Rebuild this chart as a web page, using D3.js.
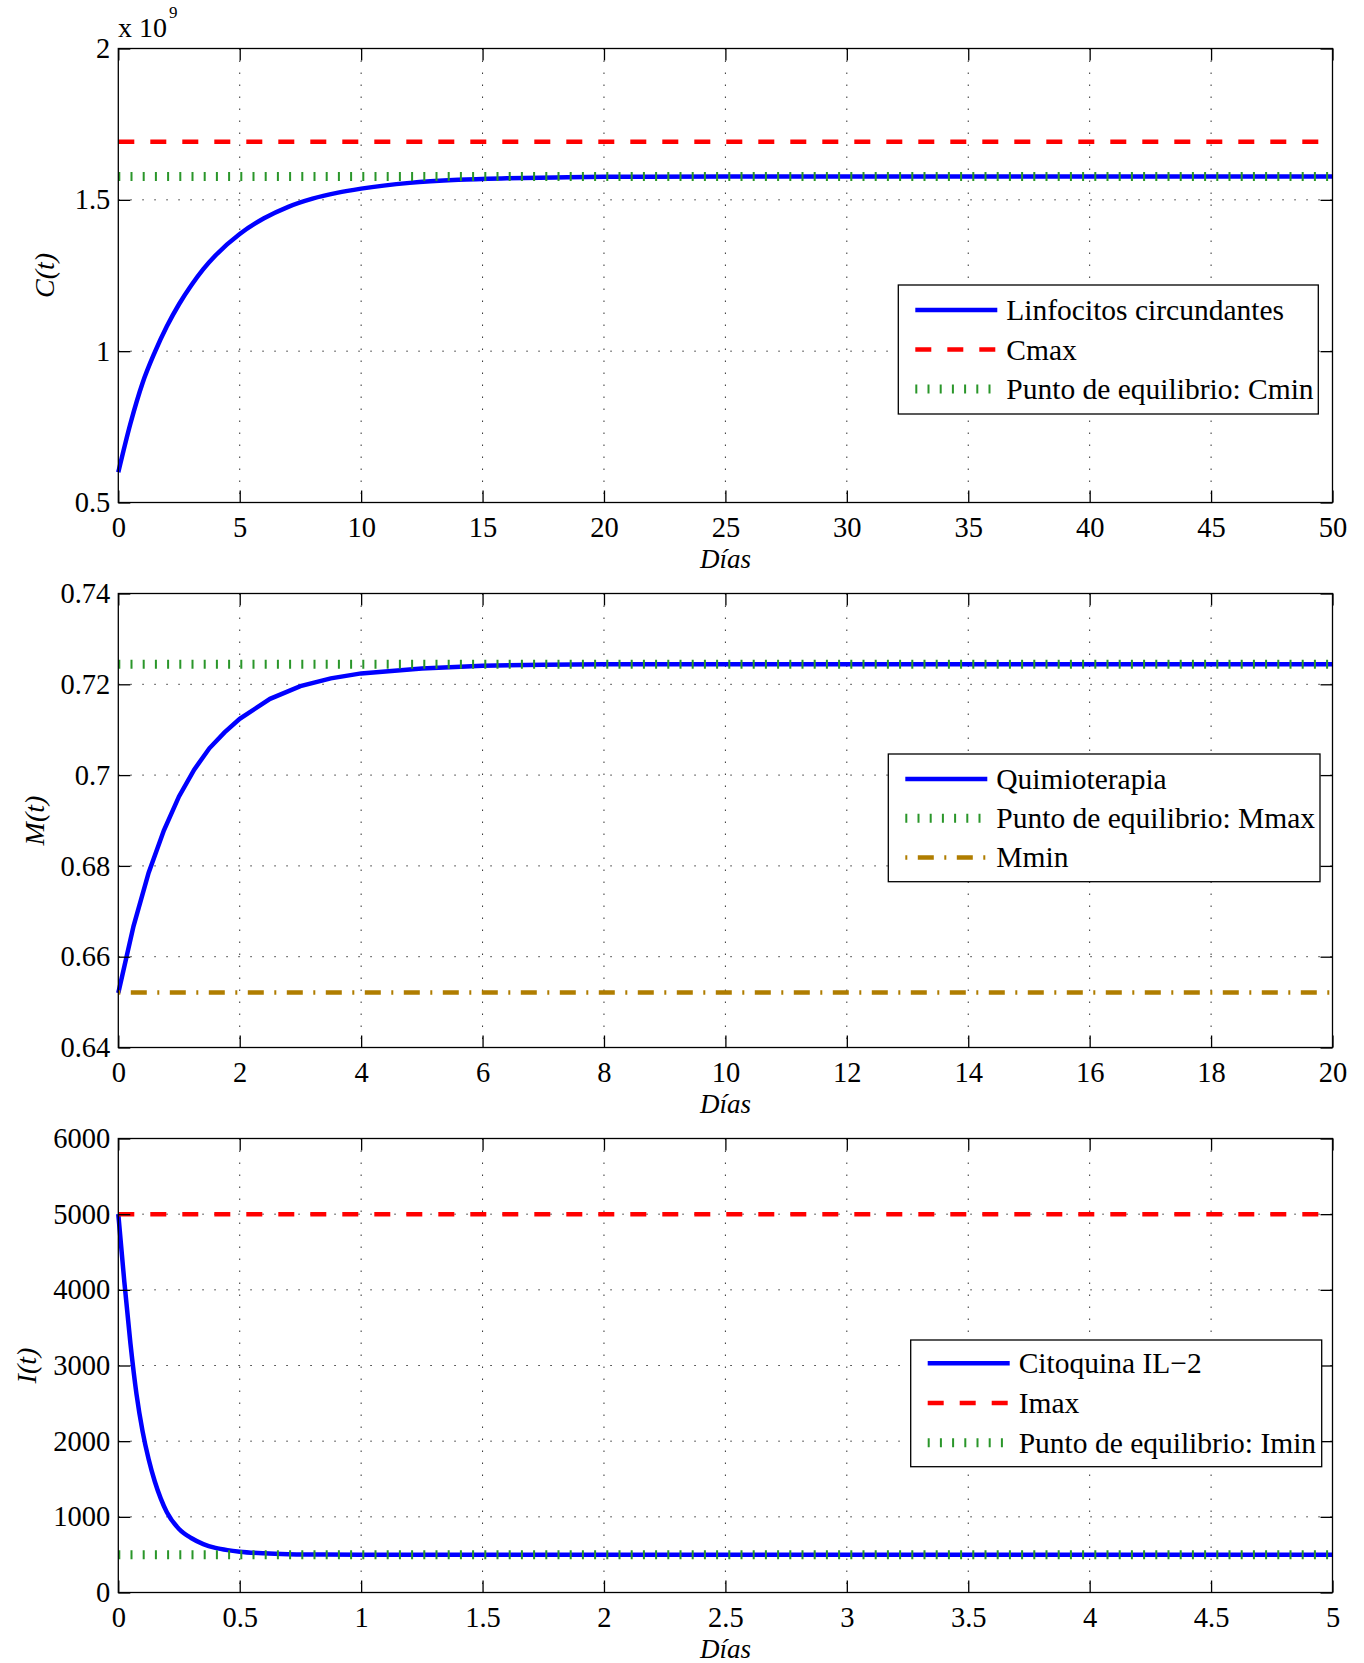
<!DOCTYPE html>
<html>
<head>
<meta charset="utf-8">
<script src="https://cdn.jsdelivr.net/npm/d3@7"></script>
<style>
  body { margin: 0; background: #fff; }
  svg text { font-family: "Liberation Serif", "Times New Roman", serif; fill: #000; }
</style>
</head>
<body>
<svg id="chart" width="1364" height="1663"></svg>
<script>
// ---- datos ----
// C(t), en unidades de 10^9
var diasC = [0, 0.5, 1, 1.5, 2, 2.5, 3, 3.5, 4, 5, 6, 7, 8, 9, 10, 12, 14, 16, 18, 20, 25, 30, 35, 40, 45, 50];
var linfocitos = [0.600, 0.761, 0.895, 0.996, 1.082, 1.155, 1.217, 1.271, 1.316, 1.387, 1.439, 1.477, 1.504, 1.523, 1.537, 1.556, 1.566, 1.571, 1.574, 1.576, 1.577, 1.577, 1.577, 1.577, 1.577, 1.577];
var cmax = 1.692, cmin = 1.577;
var ticksXC = [0, 5, 10, 15, 20, 25, 30, 35, 40, 45, 50];
var ticksYC = [0.5, 1, 1.5, 2];

// M(t)
var diasM = [0, 0.25, 0.5, 0.75, 1, 1.25, 1.5, 1.75, 2, 2.5, 3, 3.5, 4, 5, 6, 7, 8, 10, 12, 14, 16, 18, 20];
var quimio = [0.6520, 0.6667, 0.6785, 0.6878, 0.6953, 0.7012, 0.7059, 0.7094, 0.7124, 0.7168, 0.7196, 0.7213, 0.7224, 0.7235, 0.7241, 0.7243, 0.7244, 0.7244, 0.7244, 0.7244, 0.7244, 0.7244, 0.7244];
var mmax = 0.7244, mmin = 0.6521;
var ticksXM = [0, 2, 4, 6, 8, 10, 12, 14, 16, 18, 20];
var ticksYM = [0.64, 0.66, 0.68, 0.7, 0.72, 0.74];

// I(t)
var diasI = [0, 0.025, 0.05, 0.075, 0.1, 0.125, 0.15, 0.175, 0.2, 0.25, 0.3, 0.35, 0.4, 0.45, 0.5, 0.6, 0.7, 0.8, 1, 1.5, 2, 3, 4, 5];
var citoquina = [5000, 4100, 3290, 2620, 2130, 1760, 1470, 1240, 1060, 840, 720, 640, 590, 560, 540, 518, 507, 503, 500, 500, 500, 500, 500, 500];
var imax = 5000, imin = 500;
var ticksXI = [0, 0.5, 1, 1.5, 2, 2.5, 3, 3.5, 4, 4.5, 5];
var ticksYI = [0, 1000, 2000, 3000, 4000, 5000, 6000];

// ---- estilos ----
var azul   = { color: "#0000ff", width: 4.5, dash: null };
var rojo   = { color: "#ff0000", width: 4.5, dash: "16,16" };
var verde  = { color: "#2a962a", width: 9,   dash: "2,10.2" };
var marron = { color: "#b07d00", width: 4.5, dash: "2,10.5,16,10.5" };

var svg = d3.select("#chart");
var left = 118.3, right = 1332.5, ph = 454;
var FONT = "'Liberation Serif', 'Times New Roman', serif";

function estilo(sel, s) {
  sel.attr("fill", "none").attr("stroke", s.color).attr("stroke-width", s.width);
  if (s.dash) sel.attr("stroke-dasharray", s.dash);
  return sel;
}

function panel(p) {
  var g = svg.append("g");
  var x = d3.scaleLinear().domain(p.xDomain).range([left, right]);
  var y = d3.scaleLinear().domain(p.yDomain).range([p.top + ph, p.top]);

  // rejilla punteada
  g.selectAll(".gx").data(p.xTicks.slice(1, -1)).enter().append("line")
    .attr("x1", function(d){ return x(d); }).attr("x2", function(d){ return x(d); })
    .attr("y1", p.top).attr("y2", p.top + ph)
    .attr("stroke", "#333").attr("stroke-width", 1).attr("stroke-dasharray", "1.5,10.5");
  g.selectAll(".gy").data(p.yTicks.slice(1, -1)).enter().append("line")
    .attr("y1", function(d){ return y(d); }).attr("y2", function(d){ return y(d); })
    .attr("x1", left).attr("x2", right)
    .attr("stroke", "#333").attr("stroke-width", 1).attr("stroke-dasharray", "1.5,10.5");

  // series
  p.series.forEach(function(s) {
    var line = d3.line()
      .x(function(d, i){ return x(s.x[i]); })
      .y(function(d){ return y(d); })
      .curve(s.curve || d3.curveLinear);
    estilo(g.append("path").datum(s.y).attr("d", line), s.style);
  });

  // caja
  g.append("rect").attr("x", left).attr("y", p.top).attr("width", right - left).attr("height", ph)
    .attr("fill", "none").attr("stroke", "#000").attr("stroke-width", 1.3);

  function fix(a) {
    a.attr("font-family", FONT).attr("font-size", 28.5);
    a.select(".domain").remove();
    a.selectAll("line").attr("stroke", "#000").attr("stroke-width", 1.3);
    a.selectAll("text").attr("fill", "#000");
  }
  var fmt = function(d){ return String(d); };
  g.append("g").attr("transform", "translate(0," + (p.top + ph) + ")")
    .call(d3.axisBottom(x).tickValues(p.xTicks).tickSizeInner(-12).tickSizeOuter(0).tickPadding(14).tickFormat(fmt)).call(fix);
  g.append("g").attr("transform", "translate(0," + p.top + ")")
    .call(d3.axisTop(x).tickValues(p.xTicks).tickSizeInner(-12).tickSizeOuter(0).tickFormat("")).call(fix);
  g.append("g").attr("transform", "translate(" + left + ",0)")
    .call(d3.axisLeft(y).tickValues(p.yTicks).tickSizeInner(-12).tickSizeOuter(0).tickPadding(8).tickFormat(fmt)).call(fix);
  g.append("g").attr("transform", "translate(" + right + ",0)")
    .call(d3.axisRight(y).tickValues(p.yTicks).tickSizeInner(-12).tickSizeOuter(0).tickFormat("")).call(fix);

  // etiquetas
  g.append("text").attr("x", (left + right) / 2).attr("y", p.top + ph + 65)
    .attr("text-anchor", "middle").attr("font-size", 27).attr("font-style", "italic").text("Días");
  g.append("text").attr("transform", "translate(" + p.ylabelX + "," + (p.top + ph / 2) + ") rotate(-90)")
    .attr("text-anchor", "middle").attr("dominant-baseline", "central")
    .attr("font-size", 28).attr("font-style", "italic").text(p.ylabel);

  // leyenda
  var L = p.legend;
  g.append("rect").attr("x", L.x).attr("y", L.y).attr("width", L.w).attr("height", L.h)
    .attr("fill", "#fff").attr("stroke", "#000").attr("stroke-width", 1.3);
  L.items.forEach(function(it, i) {
    var ry = L.y + L.first + i * L.step;
    estilo(g.append("line").attr("x1", L.x + 17).attr("x2", L.x + 99).attr("y1", ry).attr("y2", ry), it.style);
    g.append("text").attr("x", L.x + 108).attr("y", ry + 10).attr("font-size", 29.5).text(it.label);
  });
  return g;
}

panel({
  top: 48.5, xDomain: [0, 50], yDomain: [0.5, 2], xTicks: ticksXC, yTicks: ticksYC,
  ylabel: "C(t)", ylabelX: 44.5,
  series: [
    { x: diasC, y: linfocitos, style: azul, curve: d3.curveMonotoneX },
    { x: [0, 50], y: [cmax, cmax], style: rojo },
    { x: [0, 50], y: [cmin, cmin], style: verde }
  ],
  legend: { x: 898.3, y: 285, w: 420, h: 129, first: 25, step: 39.5,
    items: [
      { style: azul, label: "Linfocitos circundantes" },
      { style: rojo, label: "Cmax" },
      { style: verde, label: "Punto de equilibrio: Cmin" }
    ] }
});

// multiplicador del eje C
var mult = svg.append("text").attr("x", 118).attr("y", 37).attr("font-size", 28);
mult.append("tspan").text("x 10");
mult.append("tspan").attr("font-size", 17).attr("dy", -19).attr("dx", 2).text("9");

panel({
  top: 593.5, xDomain: [0, 20], yDomain: [0.64, 0.74], xTicks: ticksXM, yTicks: ticksYM,
  ylabel: "M(t)", ylabelX: 34,
  series: [
    { x: diasM, y: quimio, style: azul },
    { x: [0, 20], y: [mmax, mmax], style: verde },
    { x: [0, 20], y: [mmin, mmin], style: marron }
  ],
  legend: { x: 888.3, y: 754, w: 431.7, h: 127.7, first: 25, step: 39.2,
    items: [
      { style: azul, label: "Quimioterapia" },
      { style: verde, label: "Punto de equilibrio: Mmax" },
      { style: marron, label: "Mmin" }
    ] }
});

panel({
  top: 1138.5, xDomain: [0, 5], yDomain: [0, 6000], xTicks: ticksXI, yTicks: ticksYI,
  ylabel: "I(t)", ylabelX: 26.5,
  series: [
    { x: diasI, y: citoquina, style: azul, curve: d3.curveMonotoneX },
    { x: [0, 5], y: [imax, imax], style: rojo },
    { x: [0, 5], y: [imin, imin], style: verde }
  ],
  legend: { x: 910.7, y: 1340, w: 411, h: 126.7, first: 23.3, step: 39.7,
    items: [
      { style: azul, label: "Citoquina IL\u22122" },
      { style: rojo, label: "Imax" },
      { style: verde, label: "Punto de equilibrio: Imin" }
    ] }
});
</script>
</body>
</html>
